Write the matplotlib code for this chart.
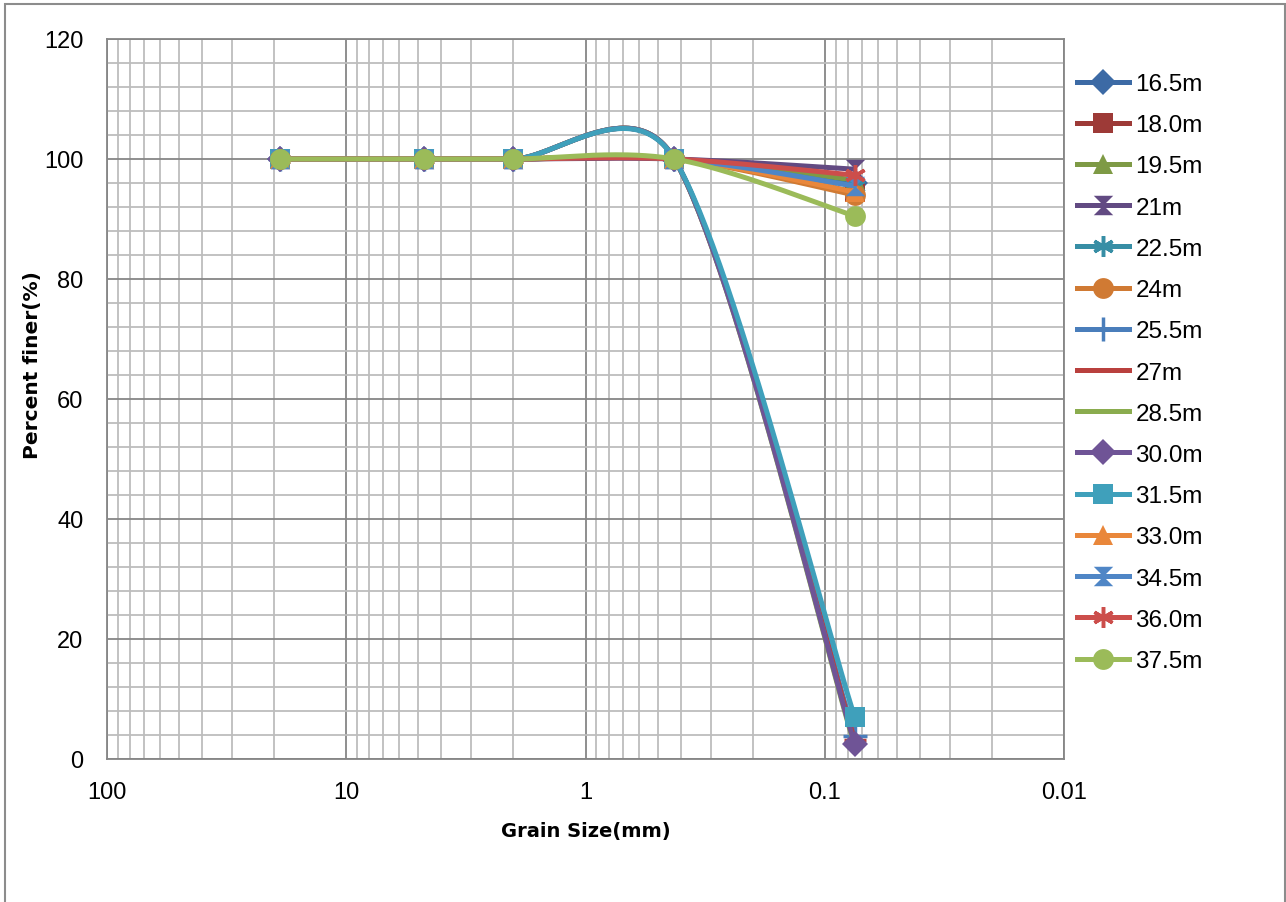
import numpy as np
import matplotlib
matplotlib.use("Agg")
import matplotlib.pyplot as plt
from matplotlib.lines import Line2D
from matplotlib.patches import Rectangle
from matplotlib.ticker import LogLocator, MultipleLocator, FixedLocator, FixedFormatter, NullFormatter

# sieve sizes (mm) and percent finer for each depth
sieve = [19.0, 4.75, 2.0, 0.425, 0.075]
depths = ["16.5m", "18.0m", "19.5m", "21m", "22.5m", "24m", "25.5m", "27m",
          "28.5m", "30.0m", "31.5m", "33.0m", "34.5m", "36.0m", "37.5m"]
finer_0075 = [96.0, 94.5, 96.5, 98.3, 95.5, 94.0, 3.8, 3.2,
              2.2, 2.5, 7.0, 94.5, 95.5, 97.3, 90.5]
finer_coarse = [100, 100, 100, 100]

colors = ["#3C6AA5", "#9D3A37", "#7E9A45", "#624A82", "#378EA5", "#D07A33",
          "#4A7EBB", "#B9403E", "#8AAC4E", "#6F5496", "#3FA0BB", "#E9873B",
          "#4F86C6", "#CC4E4B", "#9BBB59"]

hourglass = [(-1, 1), (1, 1), (0, 0), (1, -1), (-1, -1), (0, 0), (-1, 1)]
markers = ["D", "s", "^", hourglass, (6, 2, 0), "o", "+", "_",
           None, "D", "s", "^", hourglass, (6, 2, 0), "o"]
msizes = [13, 14, 15, 14, 15, 15, 17, 16, 0, 13, 14, 15, 14, 15, 15]


def smooth(ax, xs, ys, n=60):
    # Excel-like bezier smoothing, done in screen space
    pts = ax.transData.transform(np.column_stack([xs, ys]))
    m = len(pts)
    out = []
    for i in range(m - 1):
        p0 = pts[i - 1] if i > 0 else pts[i]
        p1, p2 = pts[i], pts[i + 1]
        p3 = pts[i + 2] if i + 2 < m else pts[i + 1]
        seg = np.linalg.norm(p2 - p1)
        t1 = (p2 - p0) / 6.0
        t2 = (p3 - p1) / 6.0
        for t in (t1, t2):
            L = np.linalg.norm(t)
            if L > 0.5 * seg:
                t *= 0.5 * seg / L
        c1, c2 = p1 + t1, p2 - t2
        t = np.linspace(0, 1, n)[:, None]
        b = (1 - t) ** 3 * p1 + 3 * (1 - t) ** 2 * t * c1 + 3 * (1 - t) * t ** 2 * c2 + t ** 3 * p2
        out.append(b if i == 0 else b[1:])
    return ax.transData.inverted().transform(np.vstack(out))


fig = plt.figure(figsize=(12.86, 9.03), dpi=100)
fig.patches.append(Rectangle((5 / 1286, -0.05), 1280 / 1286, 1 - 5 / 903 + 0.05,
                             transform=fig.transFigure, fill=False,
                             edgecolor="#8C8C8C", linewidth=1.5))
ax = fig.add_axes([107 / 1286, 1 - 760 / 903, 957 / 1286, 720 / 903])
ax.set_xscale("log")
ax.set_xlim(100, 0.01)
ax.set_ylim(0, 120)

ax.xaxis.set_major_locator(FixedLocator([100, 10, 1, 0.1, 0.01]))
ax.xaxis.set_major_formatter(FixedFormatter(["100", "10", "1", "0.1", "0.01"]))
ax.xaxis.set_minor_locator(LogLocator(base=10, subs=np.arange(2, 10), numticks=20))
ax.xaxis.set_minor_formatter(NullFormatter())
ax.yaxis.set_major_locator(MultipleLocator(20))
ax.yaxis.set_minor_locator(MultipleLocator(4))
ax.grid(which="major", color="#868686", linewidth=1.3)
ax.grid(which="minor", color="#BDBDBD", linewidth=1.3)
ax.set_axisbelow(True)
for s in ax.spines.values():
    s.set_color("#868686")
    s.set_linewidth(1.3)
ax.tick_params(which="both", length=0, labelsize=17)
ax.tick_params(axis="x", pad=16)
ax.tick_params(axis="y", pad=17)
for lab in ax.get_xticklabels() + ax.get_yticklabels():
    lab.set_family("Liberation Sans")

handles = []
for i, name in enumerate(depths):
    ys = finer_coarse + [finer_0075[i]]
    xy = smooth(ax, sieve, ys)
    ax.plot(xy[:, 0], xy[:, 1], color=colors[i], linewidth=3.6,
            solid_capstyle="round", zorder=3 + i)
    mk = markers[i]
    mew = 2.5 if mk in ["+", "_", (6, 2, 0)] else 0
    if mk is not None:
        ax.plot(sieve, ys, linestyle="none", marker=mk, markersize=msizes[i],
                color=colors[i], markeredgecolor=colors[i], markeredgewidth=mew,
                zorder=3 + i, clip_on=False)
    handles.append(Line2D([], [], color=colors[i], linewidth=3.6, marker=mk,
                          markersize=msizes[i], markeredgecolor=colors[i],
                          markeredgewidth=mew, label=name))

ax.set_xlabel("Grain Size(mm)", fontsize=14, fontweight="bold", labelpad=13)
ax.set_ylabel("Percent finer(%)", fontsize=14.5, fontweight="bold")
ax.yaxis.set_label_coords(-0.068, 0.549)

fig.legend(handles=handles, loc="upper left",
           bbox_to_anchor=(1077 / 1286, 1 - 74 / 903), frameon=False,
           prop={"family": "Liberation Sans", "size": 17.5},
           handlelength=2.15, handletextpad=0.25, labelspacing=0.79,
           borderpad=0, borderaxespad=0)

fig.savefig("out.png", dpi=100)
